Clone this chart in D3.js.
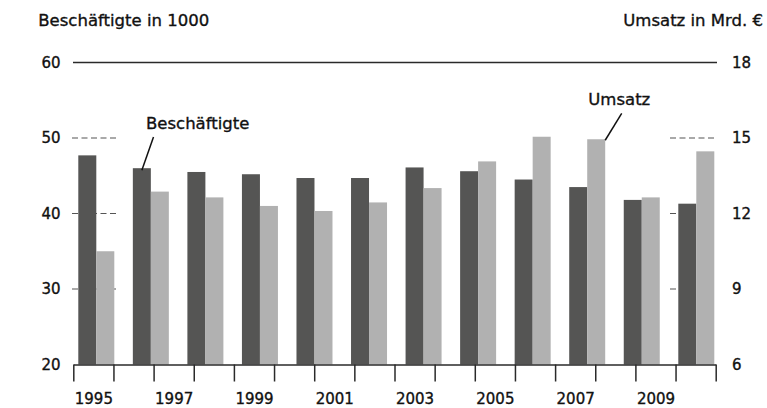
<!DOCTYPE html>
<html><head><meta charset="utf-8">
<script src="https://cdn.jsdelivr.net/npm/d3@7"></script>
<style>
html,body{margin:0;padding:0;background:#fff;}
svg{display:block;}
text{font-family:"DejaVu Sans",sans-serif;fill:#111;stroke:#111;stroke-width:0.35px;}
</style></head>
<body>
<svg id="chart" width="767" height="408"></svg>
<script>
// ---- data ----
const periods = ["P1","P2","P3","P4","P5","P6","P7","P8","P9","P10","P11","P12"];
const beschaeftigte = [47.7, 46.0, 45.5, 45.2, 44.7, 44.7, 46.1, 45.6, 44.5, 43.5, 41.8, 41.3]; // in 1000
const umsatz = [10.5, 12.87, 12.64, 12.3, 12.1, 12.44, 13.01, 14.07, 15.05, 14.95, 12.64, 14.47]; // Mrd. €
const yearTicks = d3.range(1995, 2012);
const yearLabels = [1995, 1997, 1999, 2001, 2003, 2005, 2007, 2009];
const leftTicks = [20, 30, 40, 50, 60];
const rightTicks = [6, 9, 12, 15, 18];
const leftTitle = "Beschäftigte in 1000";
const rightTitle = "Umsatz in Mrd. €";
const labelB = "Beschäftigte";
const labelU = "Umsatz";

// ---- layout ----
const svg = d3.select("#chart");
const plotL = 73.3, plotR = 715.7, yBase = 364.5, yTop = 62.5;
const yL = d3.scaleLinear().domain([20, 60]).range([yBase, yTop]);
const yR = d3.scaleLinear().domain([6, 18]).range([yBase, yTop]);
const xYear = d3.scaleLinear().domain([1995, 2011]).range([plotL, plotR]);
const xG = d3.scaleBand().domain(periods).range([78.3, 714.3]).paddingInner(0.34).paddingOuter(0);
const xS = d3.scaleBand().domain(["b","u"]).range([0, xG.bandwidth()]).padding(0);

const darkC = "#555554", lightC = "#b1b1b1", lineC = "#2a2a2a";

// titles
svg.append("text").attr("x", 38.3).attr("y", 26).attr("font-size", 16.5).text(leftTitle);
svg.append("text").attr("x", 763).attr("y", 26).attr("font-size", 16.5).attr("text-anchor", "end").text(rightTitle);

// dashed grid segments (behind bars)
const gridVals = [30, 40, 50];
const grid = svg.append("g");
gridVals.forEach(v => {
  [[72, 118], [670, 717]].forEach(([a, b]) => {
    grid.append("line").attr("x1", a).attr("x2", b)
      .attr("y1", yL(v)).attr("y2", yL(v))
      .attr("stroke", "#555").attr("stroke-width", 1.2)
      .attr("stroke-dasharray", "6,3.5");
  });
});
// top solid line
svg.append("line").attr("x1", 73).attr("x2", 717).attr("y1", yL(60)).attr("y2", yL(60))
  .attr("stroke", lineC).attr("stroke-width", 1.5);

// bars
const g = svg.append("g");
periods.forEach((p, i) => {
  g.append("rect").attr("x", xG(p) + xS("b")).attr("width", xS.bandwidth())
    .attr("y", yL(beschaeftigte[i])).attr("height", yBase - yL(beschaeftigte[i]))
    .attr("fill", darkC);
  g.append("rect").attr("x", xG(p) + xS("u")).attr("width", xS.bandwidth())
    .attr("y", yR(umsatz[i])).attr("height", yBase - yR(umsatz[i]))
    .attr("fill", lightC);
});

// x axis
const xAxisTicks = d3.axisBottom(xYear).tickValues(yearTicks).tickFormat("").tickSize(17).tickSizeOuter(0);
const xa = svg.append("g").attr("transform", `translate(0,${yBase})`).call(xAxisTicks);
xa.select(".domain").attr("stroke", lineC).attr("stroke-width", 1.5);
xa.selectAll(".tick line").attr("stroke", lineC).attr("stroke-width", 1.5);

const xAxisLabels = d3.axisBottom(d3.scaleLinear().domain([1995, 2011]).range([plotL, plotR]))
  .tickValues(yearLabels.map(y => y + 0.5)).tickFormat(d => String(Math.floor(d))).tickSize(0);
const xl = svg.append("g").attr("transform", `translate(0,${yBase})`).call(xAxisLabels);
xl.select(".domain").remove();
xl.selectAll("text").attr("font-size", 15).attr("font-family", "DejaVu Sans").attr("fill", "#111")
  .attr("dy", null).attr("y", 39);

// y axes labels
const la = svg.append("g").attr("transform", `translate(60.5,0)`)
  .call(d3.axisLeft(yL).tickValues(leftTicks).tickSize(0).tickPadding(0));
la.select(".domain").remove();
la.selectAll("text").attr("font-size", 15).attr("font-family", "DejaVu Sans").attr("fill", "#111");
const ra = svg.append("g").attr("transform", `translate(732,0)`)
  .call(d3.axisRight(yR).tickValues(rightTicks).tickSize(0).tickPadding(0));
ra.select(".domain").remove();
ra.selectAll("text").attr("font-size", 15).attr("font-family", "DejaVu Sans").attr("fill", "#111");

// annotations
const bx = xG(periods[1]) + xS("b") + 9, by = yL(beschaeftigte[1]) + 2;
svg.append("line").attr("x1", 153.5).attr("y1", 137).attr("x2", bx).attr("y2", by)
  .attr("stroke", "#111").attr("stroke-width", 1.5);
svg.append("text").attr("x", 146).attr("y", 129.3).attr("font-size", 16.5).text(labelB);

const ux = xG(periods[9]) + xS("u") + 18, uy = yR(umsatz[9]) + 1;
svg.append("line").attr("x1", 621.7).attr("y1", 113.3).attr("x2", ux).attr("y2", uy)
  .attr("stroke", "#111").attr("stroke-width", 1.5);
svg.append("text").attr("x", 588.3).attr("y", 105).attr("font-size", 16.5).text(labelU);
</script>
</body></html>
